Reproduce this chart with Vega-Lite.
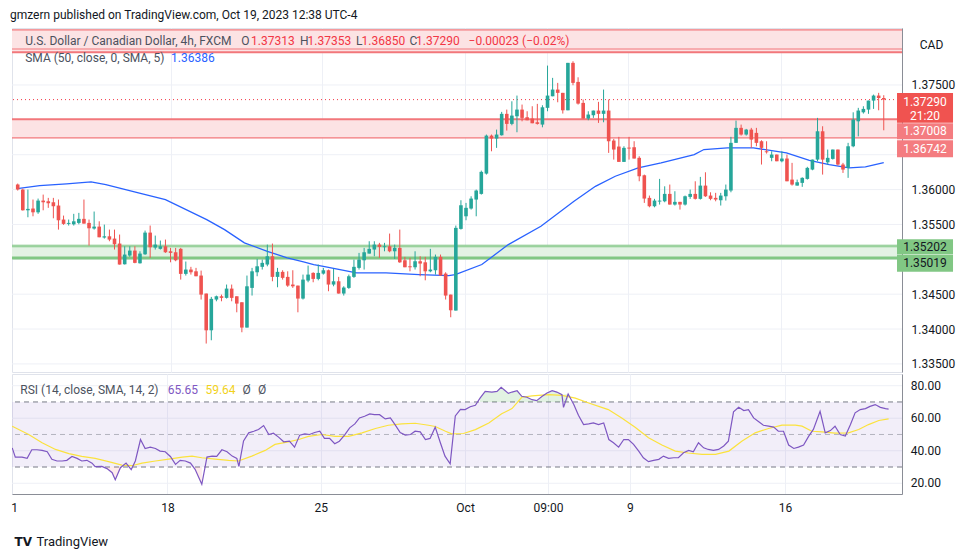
{
"$schema":"https://vega.github.io/schema/vega-lite/v6.json",
"background":"white",
"padding":{"left":10,"top":8,"right":0,"bottom":0},
"spacing":0,
"config":{"font":"Roboto","view":{"stroke":"#E0E3EB"},"axis":{"labelOverlap":false,"labelSeparation":0},"text":{"font":"Roboto","fontSize":12,"baseline":"middle","align":"left"}},
"title":{"text":"gmzern published on TradingView.com, Oct 19, 2023 12:38 UTC-4","anchor":"start","frame":"bounds","fontSize":12,"fontWeight":"normal","color":"#131722","font":"Roboto","offset":6},
"datasets":{
"candles":[
{"i":0,"o":1.36072,"h":1.36086,"l":1.35986,"c":1.36},
{"i":1,"o":1.36,"h":1.36014,"l":1.35699,"c":1.35703},
{"i":2,"o":1.35703,"h":1.36,"l":1.35603,"c":1.35723},
{"i":3,"o":1.35728,"h":1.35857,"l":1.35617,"c":1.35674},
{"i":4,"o":1.35674,"h":1.35871,"l":1.35652,"c":1.35842},
{"i":5,"o":1.35842,"h":1.35928,"l":1.35703,"c":1.35818},
{"i":6,"o":1.35832,"h":1.35881,"l":1.35738,"c":1.35804},
{"i":7,"o":1.35818,"h":1.35881,"l":1.35588,"c":1.35761},
{"i":8,"o":1.35771,"h":1.35857,"l":1.35426,"c":1.3556},
{"i":9,"o":1.3557,"h":1.35627,"l":1.35494,"c":1.35508},
{"i":10,"o":1.35508,"h":1.3557,"l":1.35484,"c":1.35522},
{"i":11,"o":1.35502,"h":1.35652,"l":1.35484,"c":1.35545},
{"i":12,"o":1.35522,"h":1.35666,"l":1.35502,"c":1.3558},
{"i":13,"o":1.3558,"h":1.35857,"l":1.35512,"c":1.35512},
{"i":14,"o":1.35522,"h":1.3557,"l":1.35197,"c":1.35445},
{"i":15,"o":1.35441,"h":1.35685,"l":1.35426,"c":1.35469},
{"i":16,"o":1.35469,"h":1.35545,"l":1.35316,"c":1.35316},
{"i":17,"o":1.35312,"h":1.35498,"l":1.35297,"c":1.3533},
{"i":18,"o":1.3533,"h":1.35426,"l":1.35259,"c":1.35283},
{"i":19,"o":1.35297,"h":1.35426,"l":1.3514,"c":1.35216},
{"i":20,"o":1.35226,"h":1.35355,"l":1.34925,"c":1.34925},
{"i":21,"o":1.34929,"h":1.35187,"l":1.34925,"c":1.35068},
{"i":22,"o":1.35054,"h":1.35187,"l":1.35035,"c":1.35125},
{"i":23,"o":1.35125,"h":1.35187,"l":1.34943,"c":1.34949},
{"i":24,"o":1.34943,"h":1.35115,"l":1.34939,"c":1.35082},
{"i":25,"o":1.35072,"h":1.35412,"l":1.35064,"c":1.35383},
{"i":26,"o":1.35383,"h":1.35484,"l":1.35021,"c":1.35173},
{"i":27,"o":1.35168,"h":1.3534,"l":1.3514,"c":1.35211},
{"i":28,"o":1.3515,"h":1.35269,"l":1.3514,"c":1.35187},
{"i":29,"o":1.35187,"h":1.35283,"l":1.35092,"c":1.35101},
{"i":30,"o":1.35115,"h":1.35164,"l":1.34957,"c":1.35092},
{"i":31,"o":1.35101,"h":1.35164,"l":1.34972,"c":1.34986},
{"i":32,"o":1.3515,"h":1.35164,"l":1.34709,"c":1.34791},
{"i":33,"o":1.34791,"h":1.34968,"l":1.34767,"c":1.34853},
{"i":34,"o":1.34853,"h":1.34892,"l":1.34781,"c":1.34814},
{"i":35,"o":1.34828,"h":1.34877,"l":1.34757,"c":1.34757},
{"i":36,"o":1.34767,"h":1.34838,"l":1.34423,"c":1.34494},
{"i":37,"o":1.34509,"h":1.34509,"l":1.33792,"c":1.33982},
{"i":38,"o":1.33982,"h":1.34461,"l":1.33839,"c":1.34433},
{"i":39,"o":1.34423,"h":1.3448,"l":1.34398,"c":1.3447},
{"i":40,"o":1.3447,"h":1.34494,"l":1.34398,"c":1.34447},
{"i":41,"o":1.34447,"h":1.34638,"l":1.34437,"c":1.3458},
{"i":42,"o":1.3458,"h":1.34638,"l":1.34398,"c":1.34447},
{"i":43,"o":1.3447,"h":1.3447,"l":1.3424,"c":1.34365},
{"i":44,"o":1.34384,"h":1.34384,"l":1.33954,"c":1.34021},
{"i":45,"o":1.34021,"h":1.34767,"l":1.34021,"c":1.34613},
{"i":46,"o":1.3459,"h":1.34877,"l":1.3448,"c":1.34828},
{"i":47,"o":1.34814,"h":1.35006,"l":1.34757,"c":1.349},
{"i":48,"o":1.34892,"h":1.34996,"l":1.34853,"c":1.34949},
{"i":49,"o":1.34925,"h":1.35211,"l":1.349,"c":1.35044},
{"i":50,"o":1.35044,"h":1.35226,"l":1.34685,"c":1.34748},
{"i":51,"o":1.34748,"h":1.34877,"l":1.34599,"c":1.3482},
{"i":52,"o":1.3482,"h":1.34843,"l":1.34709,"c":1.34734},
{"i":53,"o":1.34748,"h":1.34828,"l":1.34605,"c":1.34623},
{"i":54,"o":1.34638,"h":1.34843,"l":1.3459,"c":1.34613},
{"i":55,"o":1.34623,"h":1.34623,"l":1.3424,"c":1.34437},
{"i":56,"o":1.34437,"h":1.34781,"l":1.34423,"c":1.34709},
{"i":57,"o":1.34695,"h":1.3491,"l":1.34671,"c":1.34781},
{"i":58,"o":1.34805,"h":1.34814,"l":1.34671,"c":1.34719},
{"i":59,"o":1.34719,"h":1.34925,"l":1.34699,"c":1.34805},
{"i":60,"o":1.34795,"h":1.34877,"l":1.34781,"c":1.34843},
{"i":61,"o":1.34843,"h":1.34853,"l":1.34542,"c":1.34638},
{"i":62,"o":1.34638,"h":1.34863,"l":1.34613,"c":1.34685},
{"i":63,"o":1.34685,"h":1.34748,"l":1.34509,"c":1.34509},
{"i":64,"o":1.34509,"h":1.34613,"l":1.3448,"c":1.34595},
{"i":65,"o":1.3459,"h":1.34781,"l":1.34576,"c":1.34757},
{"i":66,"o":1.34748,"h":1.34996,"l":1.34734,"c":1.34892},
{"i":67,"o":1.34877,"h":1.35092,"l":1.34853,"c":1.34996},
{"i":68,"o":1.34986,"h":1.35164,"l":1.34853,"c":1.35101},
{"i":69,"o":1.35082,"h":1.35259,"l":1.35082,"c":1.3515},
{"i":70,"o":1.3514,"h":1.35259,"l":1.35044,"c":1.35211},
{"i":71,"o":1.35211,"h":1.35236,"l":1.35021,"c":1.35178},
{"i":72,"o":1.35173,"h":1.35236,"l":1.35115,"c":1.35187},
{"i":73,"o":1.35187,"h":1.35369,"l":1.35101,"c":1.35115},
{"i":74,"o":1.35115,"h":1.35211,"l":1.35006,"c":1.35164},
{"i":75,"o":1.35164,"h":1.35426,"l":1.34949,"c":1.34957},
{"i":76,"o":1.34986,"h":1.35035,"l":1.34886,"c":1.34886},
{"i":77,"o":1.349,"h":1.35021,"l":1.34828,"c":1.34886},
{"i":78,"o":1.34886,"h":1.35115,"l":1.34853,"c":1.34972},
{"i":79,"o":1.34972,"h":1.35044,"l":1.34757,"c":1.34939},
{"i":80,"o":1.34957,"h":1.35035,"l":1.34699,"c":1.34828},
{"i":81,"o":1.34828,"h":1.3515,"l":1.34814,"c":1.34853},
{"i":82,"o":1.34843,"h":1.35068,"l":1.34781,"c":1.35035},
{"i":83,"o":1.35035,"h":1.35068,"l":1.34767,"c":1.34767},
{"i":84,"o":1.34795,"h":1.34814,"l":1.34423,"c":1.3448},
{"i":85,"o":1.34494,"h":1.34494,"l":1.34169,"c":1.34269},
{"i":86,"o":1.34265,"h":1.35484,"l":1.34265,"c":1.35451},
{"i":87,"o":1.35436,"h":1.35847,"l":1.35426,"c":1.35775},
{"i":88,"o":1.35617,"h":1.35809,"l":1.3556,"c":1.35738},
{"i":89,"o":1.35728,"h":1.35904,"l":1.35713,"c":1.35871},
{"i":90,"o":1.35857,"h":1.36,"l":1.35617,"c":1.35986},
{"i":91,"o":1.35938,"h":1.36272,"l":1.35928,"c":1.36254},
{"i":92,"o":1.36229,"h":1.36789,"l":1.36215,"c":1.36774},
{"i":93,"o":1.36774,"h":1.36789,"l":1.36549,"c":1.36731},
{"i":94,"o":1.36731,"h":1.3686,"l":1.36598,"c":1.36789},
{"i":95,"o":1.36779,"h":1.37114,"l":1.36774,"c":1.37086},
{"i":96,"o":1.37086,"h":1.37147,"l":1.36846,"c":1.36942},
{"i":97,"o":1.36942,"h":1.37266,"l":1.36922,"c":1.37061},
{"i":98,"o":1.37051,"h":1.37348,"l":1.36822,"c":1.37147},
{"i":99,"o":1.37147,"h":1.37219,"l":1.36979,"c":1.37028},
{"i":100,"o":1.37037,"h":1.37123,"l":1.36994,"c":1.36994},
{"i":101,"o":1.37018,"h":1.37195,"l":1.36951,"c":1.36951},
{"i":102,"o":1.36965,"h":1.37229,"l":1.36932,"c":1.36942},
{"i":103,"o":1.36932,"h":1.37209,"l":1.36893,"c":1.3718},
{"i":104,"o":1.37172,"h":1.37778,"l":1.37123,"c":1.37348},
{"i":105,"o":1.37338,"h":1.37602,"l":1.37338,"c":1.37434},
{"i":106,"o":1.37434,"h":1.3753,"l":1.37252,"c":1.37387},
{"i":107,"o":1.37387,"h":1.37387,"l":1.3709,"c":1.37137},
{"i":108,"o":1.37137,"h":1.37817,"l":1.37137,"c":1.37817},
{"i":109,"o":1.37817,"h":1.3784,"l":1.37496,"c":1.3753},
{"i":110,"o":1.37544,"h":1.3761,"l":1.37219,"c":1.37233},
{"i":111,"o":1.37243,"h":1.37291,"l":1.37018,"c":1.37018},
{"i":112,"o":1.37018,"h":1.37123,"l":1.36994,"c":1.37076},
{"i":113,"o":1.37066,"h":1.37133,"l":1.37028,"c":1.37133},
{"i":114,"o":1.37133,"h":1.37258,"l":1.36956,"c":1.37086},
{"i":115,"o":1.37086,"h":1.37434,"l":1.36965,"c":1.37133},
{"i":116,"o":1.37133,"h":1.37291,"l":1.36526,"c":1.36693},
{"i":117,"o":1.36703,"h":1.36727,"l":1.3643,"c":1.36574},
{"i":118,"o":1.36617,"h":1.36756,"l":1.36397,"c":1.36397},
{"i":119,"o":1.36397,"h":1.36621,"l":1.36397,"c":1.36598},
{"i":120,"o":1.36602,"h":1.36756,"l":1.3643,"c":1.36588},
{"i":121,"o":1.36607,"h":1.36693,"l":1.36445,"c":1.36445},
{"i":122,"o":1.36455,"h":1.36478,"l":1.36119,"c":1.36191},
{"i":123,"o":1.36205,"h":1.36215,"l":1.35809,"c":1.35871},
{"i":124,"o":1.35881,"h":1.35914,"l":1.35746,"c":1.35761},
{"i":125,"o":1.35761,"h":1.35867,"l":1.35746,"c":1.35842},
{"i":126,"o":1.35828,"h":1.36153,"l":1.35785,"c":1.35842},
{"i":127,"o":1.35832,"h":1.36047,"l":1.35818,"c":1.35938},
{"i":128,"o":1.35938,"h":1.36072,"l":1.35785,"c":1.35785},
{"i":129,"o":1.35785,"h":1.35976,"l":1.35771,"c":1.35824},
{"i":130,"o":1.35824,"h":1.35824,"l":1.35713,"c":1.35785},
{"i":131,"o":1.35785,"h":1.35914,"l":1.35771,"c":1.35904},
{"i":132,"o":1.35895,"h":1.36,"l":1.35867,"c":1.35938},
{"i":133,"o":1.35938,"h":1.36119,"l":1.35857,"c":1.35867},
{"i":134,"o":1.35867,"h":1.36182,"l":1.35857,"c":1.36057},
{"i":135,"o":1.36057,"h":1.36248,"l":1.35895,"c":1.35904},
{"i":136,"o":1.35914,"h":1.35961,"l":1.35847,"c":1.35867},
{"i":137,"o":1.35881,"h":1.35953,"l":1.35832,"c":1.35857},
{"i":138,"o":1.35847,"h":1.35953,"l":1.35771,"c":1.35914},
{"i":139,"o":1.35904,"h":1.36072,"l":1.35842,"c":1.36},
{"i":140,"o":1.35986,"h":1.36756,"l":1.35961,"c":1.3667},
{"i":141,"o":1.3667,"h":1.36989,"l":1.3667,"c":1.36885},
{"i":142,"o":1.36885,"h":1.36932,"l":1.36774,"c":1.36789},
{"i":143,"o":1.36789,"h":1.3687,"l":1.36774,"c":1.3686},
{"i":144,"o":1.3686,"h":1.36885,"l":1.36598,"c":1.36717},
{"i":145,"o":1.36813,"h":1.36885,"l":1.36621,"c":1.3667},
{"i":146,"o":1.36693,"h":1.36707,"l":1.36359,"c":1.36598},
{"i":147,"o":1.36549,"h":1.36693,"l":1.36516,"c":1.36535},
{"i":148,"o":1.36455,"h":1.36549,"l":1.36406,"c":1.36502},
{"i":149,"o":1.36502,"h":1.36502,"l":1.36406,"c":1.36406},
{"i":150,"o":1.36406,"h":1.36549,"l":1.36391,"c":1.36445},
{"i":151,"o":1.36445,"h":1.36502,"l":1.36119,"c":1.36119},
{"i":152,"o":1.36143,"h":1.36383,"l":1.36057,"c":1.36072},
{"i":153,"o":1.36057,"h":1.36143,"l":1.36057,"c":1.36105},
{"i":154,"o":1.36096,"h":1.36176,"l":1.36039,"c":1.36168},
{"i":155,"o":1.36153,"h":1.36326,"l":1.36143,"c":1.36311},
{"i":156,"o":1.36287,"h":1.3643,"l":1.36277,"c":1.3643},
{"i":157,"o":1.3643,"h":1.37028,"l":1.36406,"c":1.36836},
{"i":158,"o":1.36836,"h":1.36908,"l":1.36215,"c":1.3643},
{"i":159,"o":1.36391,"h":1.36574,"l":1.36359,"c":1.36455},
{"i":160,"o":1.3644,"h":1.36574,"l":1.3643,"c":1.36574},
{"i":161,"o":1.36574,"h":1.36574,"l":1.36344,"c":1.36359},
{"i":162,"o":1.36359,"h":1.36383,"l":1.36239,"c":1.36287},
{"i":163,"o":1.36311,"h":1.3667,"l":1.36168,"c":1.36621},
{"i":164,"o":1.36621,"h":1.37108,"l":1.36607,"c":1.37004},
{"i":165,"o":1.36979,"h":1.37172,"l":1.36764,"c":1.37133},
{"i":166,"o":1.37108,"h":1.37195,"l":1.3709,"c":1.37157},
{"i":167,"o":1.37147,"h":1.37276,"l":1.37086,"c":1.37276},
{"i":168,"o":1.37276,"h":1.37362,"l":1.37157,"c":1.37348},
{"i":169,"o":1.37348,"h":1.37387,"l":1.37137,"c":1.37313},
{"i":170,"o":1.37313,"h":1.37353,"l":1.3685,"c":1.3729}
],
"sma":[
{"i":-0.1,"v":1.36014},{"i":4.3,"v":1.36057},{"i":9.6,"v":1.36082},{"i":14.4,"v":1.3611},{"i":17.3,"v":1.36072},{"i":23.7,"v":1.35953},{"i":29,"v":1.35857},{"i":37.1,"v":1.3557},{"i":40.6,"v":1.35426},{"i":44.5,"v":1.35236},{"i":49,"v":1.35115},{"i":52.9,"v":1.35021},{"i":56.1,"v":1.34963},{"i":58.1,"v":1.34925},{"i":60,"v":1.349},{"i":62.5,"v":1.34863},{"i":66.5,"v":1.34805},{"i":72.3,"v":1.34805},{"i":78.8,"v":1.34781},{"i":84.6,"v":1.34767},{"i":85.9,"v":1.34781},{"i":91.1,"v":1.34925},{"i":96.3,"v":1.35211},{"i":102.7,"v":1.35474},{"i":109.2,"v":1.35832},{"i":113.4,"v":1.36047},{"i":117.3,"v":1.36191},{"i":121.8,"v":1.36311},{"i":126.3,"v":1.36383},{"i":132.8,"v":1.36502},{"i":134.7,"v":1.36574},{"i":139.3,"v":1.36598},{"i":144.4,"v":1.36598},{"i":150.9,"v":1.36526},{"i":155.4,"v":1.3642},{"i":159.3,"v":1.36359},{"i":163.2,"v":1.36311},{"i":166.4,"v":1.36326},{"i":170,"v":1.36386}
],
"rsi":[
{"i":-0.1,"v":41.8},{"i":0.5,"v":36.1},{"i":1.8,"v":36.1},{"i":2.8,"v":35.3},{"i":3.7,"v":40.6},{"i":4.7,"v":40.6},{"i":5.7,"v":40.2},{"i":6.7,"v":39.4},{"i":7.6,"v":34.7},{"i":8.6,"v":33.7},{"i":9.6,"v":33.7},{"i":10.5,"v":34.1},{"i":11.5,"v":36.5},{"i":12.5,"v":35.3},{"i":13.4,"v":33.7},{"i":14.4,"v":34.1},{"i":15.4,"v":32.4},{"i":16,"v":30.2},{"i":17.3,"v":30.4},{"i":18.3,"v":29},{"i":19.3,"v":26.5},{"i":19.9,"v":22.2},{"i":20.9,"v":29.6},{"i":22,"v":32.4},{"i":23,"v":28.4},{"i":23.8,"v":33.7},{"i":24.8,"v":46.9},{"i":25.7,"v":41.4},{"i":26.7,"v":42.2},{"i":27.7,"v":41.4},{"i":28.6,"v":39.8},{"i":29.6,"v":39.4},{"i":30.6,"v":36.5},{"i":31.6,"v":31.6},{"i":32.5,"v":34.1},{"i":33.5,"v":33.7},{"i":34.5,"v":32.4},{"i":35.4,"v":28.6},{"i":36.7,"v":19.4},{"i":37.7,"v":36.1},{"i":38.7,"v":36.7},{"i":39.6,"v":36.5},{"i":40.6,"v":40.6},{"i":41.6,"v":39.4},{"i":42.6,"v":36.7},{"i":43.5,"v":35.3},{"i":43.9,"v":30.4},{"i":44.8,"v":46},{"i":45.8,"v":51},{"i":46.8,"v":52},{"i":47.7,"v":53.1},{"i":48.7,"v":55.5},{"i":49.7,"v":50},{"i":50.6,"v":50.8},{"i":51.6,"v":48.4},{"i":52.6,"v":45.5},{"i":53.7,"v":45.9},{"i":54.7,"v":42.2},{"i":55.7,"v":49.6},{"i":56.7,"v":50.4},{"i":57.6,"v":50},{"i":58.6,"v":51.2},{"i":59.6,"v":52},{"i":60.5,"v":47.6},{"i":61.5,"v":47.6},{"i":62.5,"v":44.3},{"i":63.4,"v":45.9},{"i":64.4,"v":49.6},{"i":65.4,"v":54.1},{"i":66.4,"v":56.5},{"i":67.3,"v":60.2},{"i":68.3,"v":61.2},{"i":69.3,"v":62.7},{"i":70.2,"v":62.2},{"i":71.2,"v":62.2},{"i":72.3,"v":59.6},{"i":73.3,"v":60.2},{"i":74.2,"v":56.1},{"i":75.2,"v":51.2},{"i":76.2,"v":49.6},{"i":77.2,"v":50},{"i":78.1,"v":52},{"i":79.1,"v":51.6},{"i":80.1,"v":46.9},{"i":81,"v":47.6},{"i":82,"v":54.5},{"i":83,"v":44.9},{"i":83.9,"v":36.7},{"i":84.9,"v":32},{"i":85.9,"v":61.4},{"i":86.9,"v":65.5},{"i":87.8,"v":65.3},{"i":88.8,"v":67.1},{"i":89.8,"v":68},{"i":90.7,"v":72.4},{"i":91.7,"v":76.5},{"i":93,"v":76.1},{"i":94,"v":76.5},{"i":94.8,"v":79},{"i":95.6,"v":76.9},{"i":96.2,"v":75.3},{"i":96.9,"v":76.1},{"i":97.9,"v":76.9},{"i":98.8,"v":73.5},{"i":99.8,"v":72.9},{"i":100.8,"v":71.4},{"i":101.7,"v":70.8},{"i":102.7,"v":73.3},{"i":103.7,"v":75.5},{"i":104.7,"v":76.9},{"i":105.6,"v":76.1},{"i":106.6,"v":74.5},{"i":106.9,"v":66.7},{"i":107.8,"v":74.9},{"i":108.9,"v":68.4},{"i":109.8,"v":61.8},{"i":110.8,"v":56.1},{"i":111.8,"v":56.5},{"i":112.7,"v":57.1},{"i":113.7,"v":56.1},{"i":114.7,"v":57.1},{"i":115.7,"v":46.9},{"i":116.6,"v":44.9},{"i":117.6,"v":42.2},{"i":118.6,"v":46.9},{"i":119.5,"v":46.9},{"i":120.5,"v":43.9},{"i":121.5,"v":39.8},{"i":122.4,"v":35.7},{"i":123.4,"v":33.3},{"i":124.4,"v":34.1},{"i":125.4,"v":34.7},{"i":126.3,"v":36.7},{"i":127.3,"v":35.3},{"i":128.3,"v":35.7},{"i":129.2,"v":35.7},{"i":130.2,"v":38.8},{"i":131.2,"v":40.2},{"i":132.1,"v":39.4},{"i":133.1,"v":44.9},{"i":134.1,"v":41.8},{"i":135,"v":40.8},{"i":136,"v":40.2},{"i":137,"v":40.8},{"i":138,"v":42.9},{"i":138.9,"v":45.9},{"i":139.9,"v":63.9},{"i":140.9,"v":66.7},{"i":141.9,"v":64.7},{"i":142.8,"v":65.3},{"i":143.8,"v":60.2},{"i":144.8,"v":57.8},{"i":145.7,"v":55.7},{"i":146.7,"v":55.1},{"i":147.7,"v":54.5},{"i":148.6,"v":52},{"i":149.6,"v":52},{"i":150.6,"v":43.5},{"i":151.6,"v":41.4},{"i":152.5,"v":42.2},{"i":153.5,"v":43.5},{"i":154.5,"v":49},{"i":155.4,"v":53.1},{"i":156.7,"v":64.3},{"i":157.7,"v":51},{"i":158.7,"v":52.4},{"i":159.6,"v":55.1},{"i":160.6,"v":50},{"i":161.6,"v":49},{"i":162.6,"v":56.1},{"i":163.5,"v":63.3},{"i":164.5,"v":65.3},{"i":165.5,"v":65.9},{"i":166.4,"v":67.3},{"i":167.4,"v":68.4},{"i":168.4,"v":66.7},{"i":169.4,"v":65.9},{"i":170,"v":65.65}
],
"rsima":[
{"i":-0.1,"v":55.1},{"i":3.1,"v":50},{"i":5.7,"v":44.9},{"i":8.3,"v":40.8},{"i":10.9,"v":38.2},{"i":13.4,"v":36.5},{"i":16,"v":35.3},{"i":18.6,"v":33.3},{"i":21.2,"v":31.2},{"i":23.1,"v":30.8},{"i":25.1,"v":32.4},{"i":27.7,"v":33.7},{"i":30.3,"v":34.9},{"i":32.9,"v":36.1},{"i":34.8,"v":36.7},{"i":36.7,"v":35.7},{"i":39.3,"v":34.9},{"i":41.9,"v":34.1},{"i":43.8,"v":33.7},{"i":46.4,"v":36.7},{"i":49,"v":40.2},{"i":50.9,"v":43.9},{"i":53.5,"v":45.5},{"i":55.5,"v":46.9},{"i":57.4,"v":48.8},{"i":60,"v":50},{"i":62.6,"v":48.8},{"i":65.2,"v":48.8},{"i":67.8,"v":51},{"i":70.4,"v":53.7},{"i":72.9,"v":55.7},{"i":75.5,"v":56.5},{"i":78.1,"v":56.9},{"i":80.7,"v":55.7},{"i":82,"v":54.9},{"i":84,"v":52},{"i":85.2,"v":50.4},{"i":87.5,"v":50.6},{"i":89.8,"v":53},{"i":92.4,"v":57.1},{"i":94.9,"v":62.7},{"i":96.9,"v":65.9},{"i":98.8,"v":72.9},{"i":100.8,"v":73.7},{"i":104,"v":74.5},{"i":106.6,"v":74.1},{"i":109.2,"v":72.4},{"i":111.8,"v":69.4},{"i":114.3,"v":66.7},{"i":115.6,"v":65.3},{"i":118.2,"v":60.2},{"i":120.8,"v":54.5},{"i":123.4,"v":48},{"i":126,"v":43.5},{"i":128.6,"v":39.8},{"i":131.1,"v":38.6},{"i":133.8,"v":37.8},{"i":136.4,"v":37.8},{"i":139,"v":39.8},{"i":141.5,"v":45.9},{"i":144.1,"v":51},{"i":146.7,"v":53.7},{"i":149.3,"v":55.7},{"i":151.9,"v":55.7},{"i":153.2,"v":55.1},{"i":155.1,"v":52},{"i":157.1,"v":51.6},{"i":159.6,"v":50.8},{"i":162.2,"v":51},{"i":164.2,"v":53.1},{"i":166.1,"v":56.1},{"i":168.1,"v":58.6},{"i":170,"v":59.64}
]
},
"vconcat":[
{
"width":890,"height":344,
"layer":[
{"data":{"values":[{"g":1.335},{"g":1.34},{"g":1.345},{"g":1.35},{"g":1.355},{"g":1.36},{"g":1.365},{"g":1.37},{"g":1.375},{"g":1.38}]},"mark":{"type":"rule","color":"#EEF0F6","strokeWidth":1},
 "encoding":{"y":{"field":"g","type":"quantitative","scale":{"domain":[1.33384,1.38317],"nice":false,"zero":false},
   "axis":{"orient":"right","values":[1.335,1.34,1.345,1.355,1.36,1.375],"format":".5f",
     "labelOverlap":false,"labelBound":false,"labelFlush":false,"labelSeparation":0,
     "labelFontSize":12,"labelColor":"#131722","labelPadding":9,"ticks":false,"domainColor":"#8A8D96","grid":false,
     "title":"CAD","titleAngle":0,"titleX":29,"titleY":16,"titleAlign":"center","titleBaseline":"middle","titleFontSize":12,"titleFontWeight":"normal","titleColor":"#131722"}}}},
{"data":{"values":[{"lo":1.37969,"hi":1.38289},{"lo":1.36742,"hi":1.37008}]},"mark":{"type":"rect","clip":true,"color":"#FCE3E4"},
 "encoding":{"y":{"field":"lo","type":"quantitative","scale":{"domain":[1.33384,1.38317],"nice":false,"zero":false}},"y2":{"field":"hi"}}},
{"data":{"values":[{"lo":1.35019,"hi":1.35202}]},"mark":{"type":"rect","clip":true,"color":"#E3F2E4"},
 "encoding":{"y":{"field":"lo","type":"quantitative","scale":{"domain":[1.33384,1.38317],"nice":false,"zero":false}},"y2":{"field":"hi"}}},
{"data":{"values":[{"p":1.37969},{"p":1.37008}]},"mark":{"type":"rule","color":"#F2777B","strokeWidth":2},
 "encoding":{"y":{"field":"p","type":"quantitative","scale":{"domain":[1.33384,1.38317],"nice":false,"zero":false}}}},
{"data":{"values":[{"p":1.38289},{"p":1.38016},{"p":1.36742}]},"mark":{"type":"rule","color":"#F2777B","strokeWidth":1.2},
 "encoding":{"y":{"field":"p","type":"quantitative","scale":{"domain":[1.33384,1.38317],"nice":false,"zero":false}}}},
{"data":{"values":[{"p":1.35019}]},"mark":{"type":"rule","color":"#81C784","strokeWidth":3},
 "encoding":{"y":{"field":"p","type":"quantitative","scale":{"domain":[1.33384,1.38317],"nice":false,"zero":false}}}},
{"data":{"values":[{"p":1.35202},{"p":1.3518}]},"mark":{"type":"rule","color":"#81C784","strokeWidth":1},
 "encoding":{"y":{"field":"p","type":"quantitative","scale":{"domain":[1.33384,1.38317],"nice":false,"zero":false}}}},
{"data":{"values":[{"p":1.3729}]},"mark":{"type":"rule","color":"#F23645","strokeWidth":1,"strokeDash":[1,3]},
 "encoding":{"y":{"field":"p","type":"quantitative","scale":{"domain":[1.33384,1.38317],"nice":false,"zero":false}}}},
{"data":{"name":"sma"},"mark":{"type":"line","color":"#2962FF","strokeWidth":1.3,"clip":true},
 "encoding":{"x":{"field":"i","type":"quantitative","scale":{"domain":[-0.14,172.6],"nice":false,"zero":false},
   "axis":{"values":[0.25,30.04,59.8,87.8,103.9,119.8,149.9],"labels":false,"ticks":false,"domain":false,"grid":true,
     "gridColor":{"condition":{"test":"datum.value < 1","value":"rgba(0,0,0,0)"},"value":"#EEF0F6"},"title":null}},
  "y":{"field":"v","type":"quantitative","scale":{"domain":[1.33384,1.38317],"nice":false,"zero":false}}}},
{"data":{"name":"candles"},"mark":{"type":"rule","strokeWidth":1,"clip":true},
 "encoding":{"x":{"field":"i","type":"quantitative","scale":{"domain":[-0.14,172.6],"nice":false,"zero":false}},
  "y":{"field":"l","type":"quantitative","scale":{"domain":[1.33384,1.38317],"nice":false,"zero":false}},"y2":{"field":"h"},
  "color":{"condition":{"test":"datum.c >= datum.o","value":"#26A69A"},"value":"#EF5350"}}},
{"data":{"name":"candles"},"mark":{"type":"bar","width":3.6,"clip":true},
 "encoding":{"x":{"field":"i","type":"quantitative","scale":{"domain":[-0.14,172.6],"nice":false,"zero":false}},
  "y":{"field":"o","type":"quantitative","scale":{"domain":[1.33384,1.38317],"nice":false,"zero":false}},"y2":{"field":"c"},
  "color":{"condition":{"test":"datum.c >= datum.o","value":"#26A69A"},"value":"#EF5350"}}},
{"data":{"values":[{}]},"mark":{"type":"text","text":"U.S. Dollar / Canadian Dollar, 4h, FXCM","color":"#4C525E"},"encoding":{"x":{"datum":1.47,"type":"quantitative"},"y":{"datum":1.38131,"type":"quantitative"}}},
{"data":{"values":[{}]},"mark":{"type":"text","text":"O","color":"#4C525E"},"encoding":{"x":{"datum":43.9,"type":"quantitative"},"y":{"datum":1.38131,"type":"quantitative"}}},
{"data":{"values":[{}]},"mark":{"type":"text","text":"1.37313","color":"#F23645"},"encoding":{"x":{"datum":45.8,"type":"quantitative"},"y":{"datum":1.38131,"type":"quantitative"}}},
{"data":{"values":[{}]},"mark":{"type":"text","text":"H","color":"#4C525E"},"encoding":{"x":{"datum":55.4,"type":"quantitative"},"y":{"datum":1.38131,"type":"quantitative"}}},
{"data":{"values":[{}]},"mark":{"type":"text","text":"1.37353","color":"#F23645"},"encoding":{"x":{"datum":56.9,"type":"quantitative"},"y":{"datum":1.38131,"type":"quantitative"}}},
{"data":{"values":[{}]},"mark":{"type":"text","text":"L","color":"#4C525E"},"encoding":{"x":{"datum":66.4,"type":"quantitative"},"y":{"datum":1.38131,"type":"quantitative"}}},
{"data":{"values":[{}]},"mark":{"type":"text","text":"1.36850","color":"#F23645"},"encoding":{"x":{"datum":67.5,"type":"quantitative"},"y":{"datum":1.38131,"type":"quantitative"}}},
{"data":{"values":[{}]},"mark":{"type":"text","text":"C","color":"#4C525E"},"encoding":{"x":{"datum":76.9,"type":"quantitative"},"y":{"datum":1.38131,"type":"quantitative"}}},
{"data":{"values":[{}]},"mark":{"type":"text","text":"1.37290","color":"#F23645"},"encoding":{"x":{"datum":78.2,"type":"quantitative"},"y":{"datum":1.38131,"type":"quantitative"}}},
{"data":{"values":[{}]},"mark":{"type":"text","text":"−0.00023 (−0.02%)","color":"#F23645"},"encoding":{"x":{"datum":88.5,"type":"quantitative"},"y":{"datum":1.38131,"type":"quantitative"}}},
{"data":{"values":[{}]},"mark":{"type":"text","text":"SMA (50, close, 0, SMA, 5)","color":"#4C525E"},"encoding":{"x":{"datum":1.47,"type":"quantitative"},"y":{"datum":1.37887,"type":"quantitative"}}},
{"data":{"values":[{}]},"mark":{"type":"text","text":"1.36386","color":"#2962FF"},"encoding":{"x":{"datum":30.1,"type":"quantitative"},"y":{"datum":1.37887,"type":"quantitative"}}},
{"data":{"values":[{"p":1.3729,"k":"cur"},{"p":1.37008,"k":"r1"},{"p":1.36742,"k":"r2"},{"p":1.35202,"k":"g1"},{"p":1.35019,"k":"g2"}]},
 "mark":{"type":"point","filled":true,"opacity":1,"size":3136,"strokeWidth":0},
 "encoding":{"x":{"datum":178.1,"type":"quantitative"},"y":{"field":"p","type":"quantitative","scale":{"domain":[1.33384,1.38317],"nice":false,"zero":false}},
  "shape":{"field":"k","type":"nominal","legend":null,"scale":{"domain":["cur","r1","r2","g1","g2"],"range":["M-1,-0.24L1,-0.24L1,0.83L-1,0.83Z","M-1,0.14L1,0.14L1,0.71L-1,0.71Z","M-1,0.09L1,0.09L1,0.69L-1,0.69Z","M-1,-0.21L1,-0.21L1,0.33L-1,0.33Z","M-1,-0.11L1,-0.11L1,0.49L-1,0.49Z"]}},
  "fill":{"field":"k","type":"nominal","legend":null,"scale":{"domain":["cur","r1","r2","g1","g2"],"range":["#F05350","#F47C80","#F47C80","#81C784","#81C784"]}}}},
{"data":{"values":[{"p":1.3729,"t":"1.37290"}]},"mark":{"type":"text","align":"center","dy":2,"color":"white"},"encoding":{"x":{"datum":178.1,"type":"quantitative"},"y":{"field":"p","type":"quantitative"},"text":{"field":"t"}}},
{"data":{"values":[{"p":1.3729,"t":"21:20"}]},"mark":{"type":"text","align":"center","dy":16,"color":"white"},"encoding":{"x":{"datum":178.1,"type":"quantitative"},"y":{"field":"p","type":"quantitative"},"text":{"field":"t"}}},
{"data":{"values":[{"p":1.37008,"t":"1.37008"}]},"mark":{"type":"text","align":"center","dy":12,"color":"white"},"encoding":{"x":{"datum":178.1,"type":"quantitative"},"y":{"field":"p","type":"quantitative"},"text":{"field":"t"}}},
{"data":{"values":[{"p":1.36742,"t":"1.36742"}]},"mark":{"type":"text","align":"center","dy":11,"color":"white"},"encoding":{"x":{"datum":178.1,"type":"quantitative"},"y":{"field":"p","type":"quantitative"},"text":{"field":"t"}}},
{"data":{"values":[{"p":1.35202,"t":"1.35202"}]},"mark":{"type":"text","align":"center","dy":1.5,"color":"#131722"},"encoding":{"x":{"datum":178.1,"type":"quantitative"},"y":{"field":"p","type":"quantitative"},"text":{"field":"t"}}},
{"data":{"values":[{"p":1.35019,"t":"1.35019"}]},"mark":{"type":"text","align":"center","dy":5.5,"color":"#131722"},"encoding":{"x":{"datum":178.1,"type":"quantitative"},"y":{"field":"p","type":"quantitative"},"text":{"field":"t"}}}
]
},
{
"width":890,"height":120,
"layer":[
{"data":{"values":[{"g":20},{"g":40},{"g":60},{"g":80}]},"mark":{"type":"rule","color":"#EEF0F6","strokeWidth":1},
 "encoding":{"y":{"field":"g","type":"quantitative","scale":{"domain":[13.4,87.2],"nice":false,"zero":false},
   "axis":{"orient":"right","values":[20,80],"labels":false,"ticks":false,"domainColor":"#8A8D96","grid":false,
     "title":"TV","titleFont":"DejaVu Sans","titleFontWeight":"bold","titleFontSize":12,"titleAngle":0,"titleX":-888,"titleY":167,"titleAlign":"left","titleBaseline":"middle","titleColor":"#131722"}}}},
{"data":{"values":[{"g":20},{"g":40},{"g":60},{"g":80}]},"mark":{"type":"text","color":"#131722","fontSize":12,"align":"left","baseline":"middle"},
 "encoding":{"x":{"datum":174.3,"type":"quantitative"},"y":{"field":"g","type":"quantitative","scale":{"domain":[13.4,87.2],"nice":false,"zero":false}},"text":{"field":"g","type":"quantitative","format":".2f"}}},
{"data":{"values":[{"lo":30,"hi":70}]},"mark":{"type":"rect","color":"#7E57C2","opacity":0.1},
 "encoding":{"y":{"field":"lo","type":"quantitative","scale":{"domain":[13.4,87.2],"nice":false,"zero":false}},"y2":{"field":"hi"}}},
{"data":{"values":[{"v":70},{"v":30}]},"mark":{"type":"rule","color":"#787B86","strokeDash":[5,4],"strokeWidth":1},
 "encoding":{"y":{"field":"v","type":"quantitative","scale":{"domain":[13.4,87.2],"nice":false,"zero":false}}}},
{"data":{"values":[{"v":50}]},"mark":{"type":"rule","color":"#787B86","opacity":0.5,"strokeDash":[5,4],"strokeWidth":1},
 "encoding":{"y":{"field":"v","type":"quantitative","scale":{"domain":[13.4,87.2],"nice":false,"zero":false}}}},
{"data":{"name":"rsi"},"transform":[{"filter":"datum.v >= 70"}],"mark":{"type":"area","color":"#4CAF50","opacity":0.16},
 "encoding":{"x":{"field":"i","type":"quantitative","scale":{"domain":[-0.14,172.6],"nice":false,"zero":false}},
  "y":{"field":"v","type":"quantitative","scale":{"domain":[13.4,87.2],"nice":false,"zero":false}},"y2":{"datum":70}}},
{"data":{"name":"rsi"},"transform":[{"filter":"datum.v <= 30 && datum.i > 17 && datum.i < 22"}],"mark":{"type":"area","color":"#F23645","opacity":0.1},
 "encoding":{"x":{"field":"i","type":"quantitative","scale":{"domain":[-0.14,172.6],"nice":false,"zero":false}},
  "y":{"field":"v","type":"quantitative","scale":{"domain":[13.4,87.2],"nice":false,"zero":false}},"y2":{"datum":30}}},
{"data":{"name":"rsi"},"transform":[{"filter":"datum.v <= 30 && datum.i > 34 && datum.i < 38"}],"mark":{"type":"area","color":"#F23645","opacity":0.1},
 "encoding":{"x":{"field":"i","type":"quantitative","scale":{"domain":[-0.14,172.6],"nice":false,"zero":false}},
  "y":{"field":"v","type":"quantitative","scale":{"domain":[13.4,87.2],"nice":false,"zero":false}},"y2":{"datum":30}}},
{"data":{"name":"rsima"},"mark":{"type":"line","color":"#FBE23D","strokeWidth":1.2,"clip":true},
 "encoding":{"x":{"field":"i","type":"quantitative","scale":{"domain":[-0.14,172.6],"nice":false,"zero":false},
   "axis":{"values":[0.25,30.04,59.8,87.8,103.9,119.8,149.9],
     "labelExpr":"datum.value < 1 ? '1' : datum.value < 40 ? '18' : datum.value < 70 ? '25' : datum.value < 95 ? 'Oct' : datum.value < 110 ? '09:00' : datum.value < 130 ? '9' : '16'",
     "labelFontSize":12,"labelColor":"#131722","labelPadding":8,"labelOverlap":false,"labelBound":false,"labelFlush":false,"ticks":false,"domainColor":"#8A8D96","grid":true,
     "gridColor":{"condition":{"test":"datum.value < 1","value":"rgba(0,0,0,0)"},"value":"#EEF0F6"},
     "title":"TradingView","titleX":24,"titleY":47,"titleAlign":"left","titleBaseline":"middle","titleFontSize":13,"titleFontWeight":"normal","titleColor":"#131722"}},
  "y":{"field":"v","type":"quantitative","scale":{"domain":[13.4,87.2],"nice":false,"zero":false}}}},
{"data":{"name":"rsi"},"mark":{"type":"line","color":"#7E57C2","strokeWidth":1.2,"clip":true},
 "encoding":{"x":{"field":"i","type":"quantitative","scale":{"domain":[-0.14,172.6],"nice":false,"zero":false}},
  "y":{"field":"v","type":"quantitative","scale":{"domain":[13.4,87.2],"nice":false,"zero":false}}}},
{"data":{"values":[{}]},"mark":{"type":"text","text":"RSI (14, close, SMA, 14, 2)","color":"#4C525E"},"encoding":{"x":{"datum":1.47,"type":"quantitative"},"y":{"datum":77.4,"type":"quantitative"}}},
{"data":{"values":[{}]},"mark":{"type":"text","text":"65.65","color":"#7E57C2"},"encoding":{"x":{"datum":30.1,"type":"quantitative"},"y":{"datum":77.4,"type":"quantitative"}}},
{"data":{"values":[{}]},"mark":{"type":"text","text":"59.64","color":"#F2D21B"},"encoding":{"x":{"datum":37.4,"type":"quantitative"},"y":{"datum":77.4,"type":"quantitative"}}},
{"data":{"values":[{}]},"mark":{"type":"text","text":"Ø","color":"#4C525E"},"encoding":{"x":{"datum":44.6,"type":"quantitative"},"y":{"datum":77.4,"type":"quantitative"}}},
{"data":{"values":[{}]},"mark":{"type":"text","text":"Ø","color":"#4C525E"},"encoding":{"x":{"datum":47.6,"type":"quantitative"},"y":{"datum":77.4,"type":"quantitative"}}}
]
}
]
}
